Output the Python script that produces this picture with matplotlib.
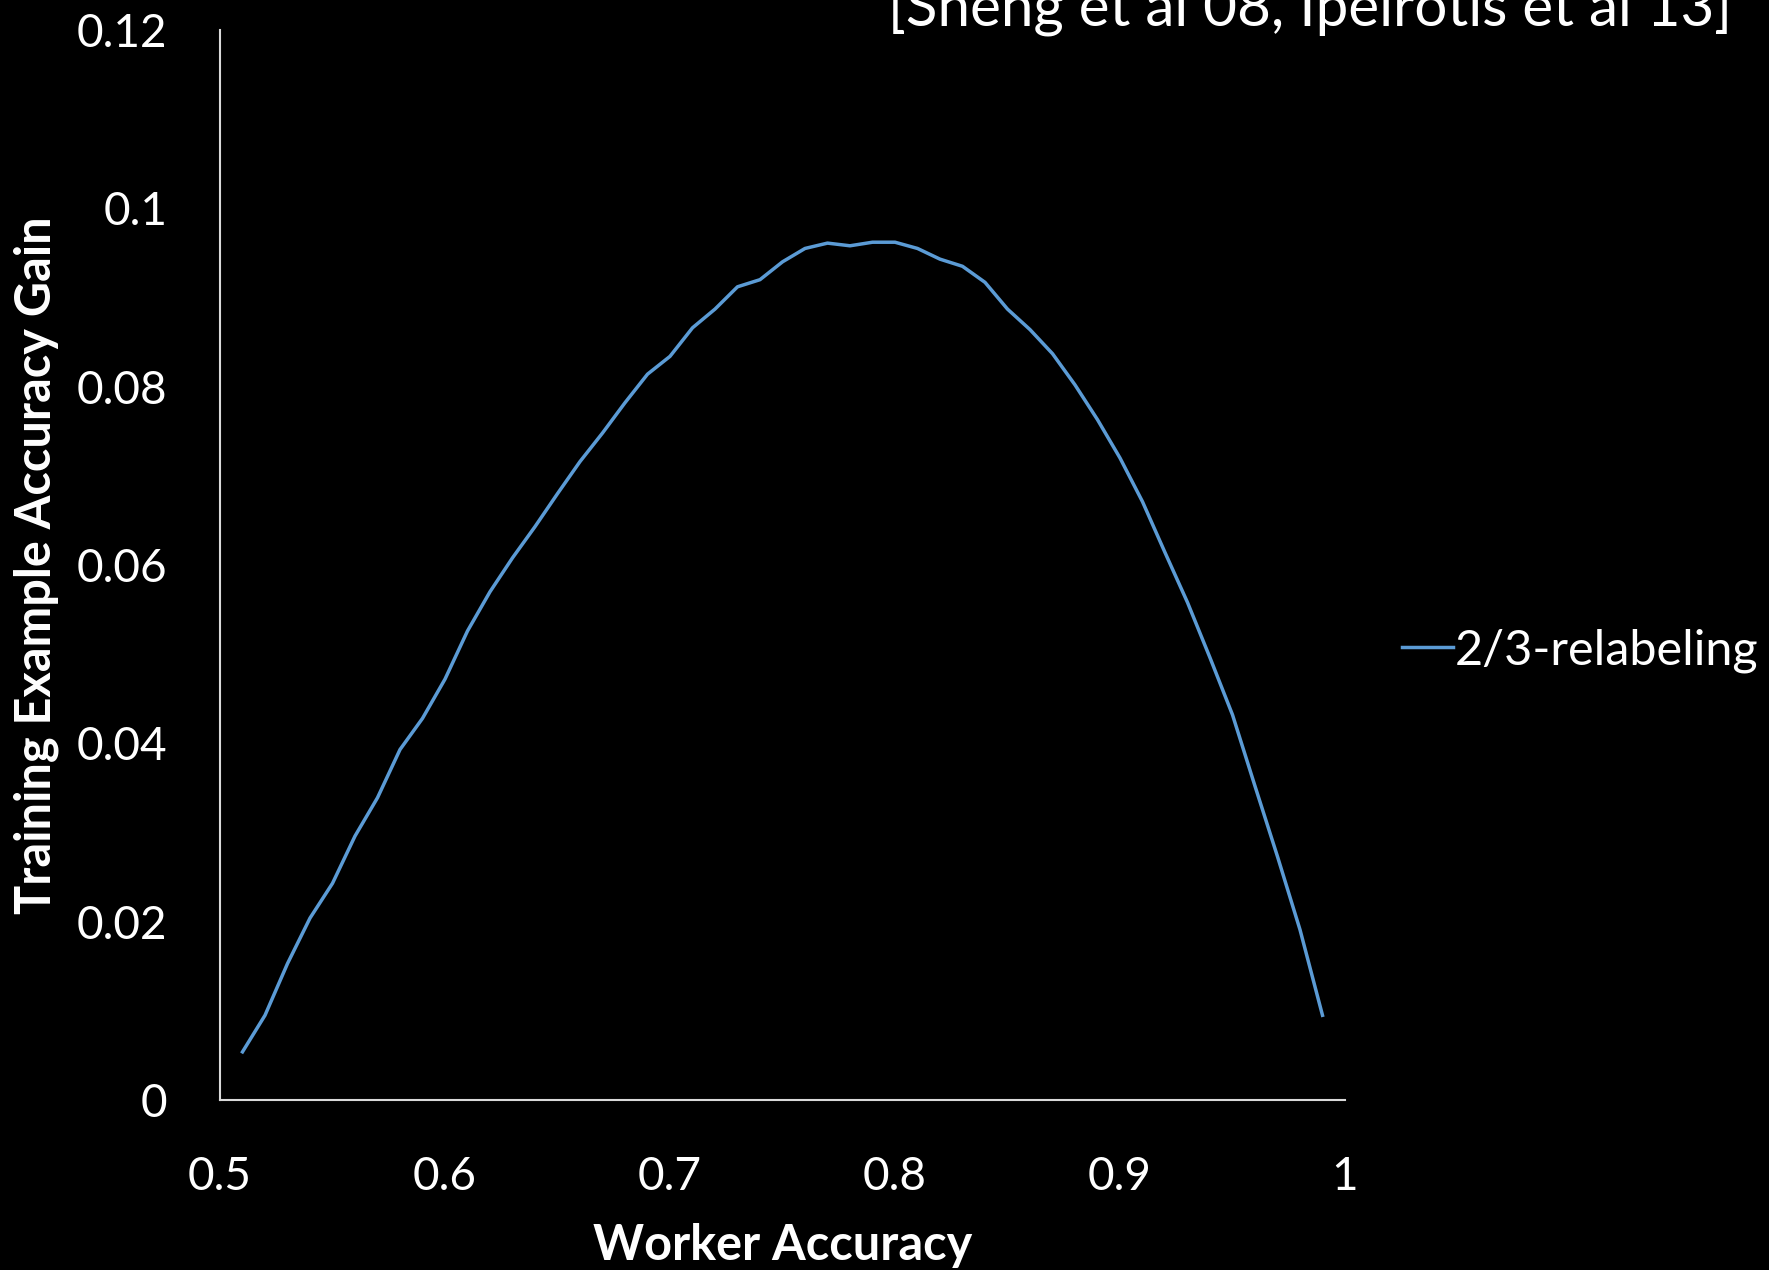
import numpy as np
import matplotlib
matplotlib.use("Agg")
import matplotlib.pyplot as plt

# ---- Data -------------------------------------------------------------------
worker_acc = [0.51, 0.52, 0.53, 0.54, 0.55, 0.56, 0.57, 0.58, 0.59, 0.60,
              0.61, 0.62, 0.63, 0.64, 0.65, 0.66, 0.67, 0.68, 0.69, 0.70,
              0.71, 0.72, 0.73, 0.74, 0.75, 0.76, 0.77, 0.78, 0.79, 0.80,
              0.81, 0.82, 0.83, 0.84, 0.85, 0.86, 0.87, 0.88, 0.89, 0.90,
              0.91, 0.92, 0.93, 0.94, 0.95, 0.96, 0.97, 0.98, 0.99]
acc_gain = [0.0054, 0.0095, 0.0153, 0.0204, 0.0243, 0.0296, 0.0339, 0.0393, 0.0428, 0.0472,
            0.0526, 0.0570, 0.0608, 0.0643, 0.0680, 0.0716, 0.0748, 0.0782, 0.0814, 0.0834,
            0.0866, 0.0887, 0.0912, 0.0920, 0.0940, 0.0955, 0.0961, 0.0958, 0.0962, 0.0962,
            0.0955, 0.0943, 0.0935, 0.0917, 0.0887, 0.0864, 0.0837, 0.0802, 0.0763, 0.0720,
            0.0671, 0.0614, 0.0558, 0.0496, 0.0432, 0.0352, 0.0273, 0.0191, 0.0095]

x_ticks = [0.5, 0.6, 0.7, 0.8, 0.9, 1.0]
x_ticklabels = ["0.5", "0.6", "0.7", "0.8", "0.9", "1"]
y_ticks = [0, 0.02, 0.04, 0.06, 0.08, 0.10, 0.12]
y_ticklabels = ["0", "0.02", "0.04", "0.06", "0.08", "0.1", "0.12"]

SERIES = "2/3-relabeling"
CITATION = "[Sheng et al 08, Ipeirotis et al 13]"

# ---- Style ------------------------------------------------------------------
plt.rcParams["font.family"] = ["Lato", "DejaVu Sans"]
FG = "white"
LINE = "#5B9BD5"

W, H = 1769, 1270
fig = plt.figure(figsize=(W / 100, H / 100), dpi=100, facecolor="black")
ax = fig.add_axes([220 / W, 1 - 1100 / H, 1125 / W, (1100 - 30) / H])
ax.set_facecolor("black")

ax.plot(worker_acc, acc_gain, color=LINE, linewidth=2.5, label=SERIES)

ax.set_xlim(0.5, 1.0)
ax.set_ylim(0, 0.12)
ax.set_xticks(x_ticks)
ax.set_xticklabels(x_ticklabels)
ax.set_yticks(y_ticks)
ax.set_yticklabels(y_ticklabels)
ax.tick_params(axis="both", length=0, labelsize=33, colors=FG)
ax.tick_params(axis="x", pad=40)
ax.tick_params(axis="y", pad=38)

for side in ("top", "right"):
    ax.spines[side].set_visible(False)
for side in ("left", "bottom"):
    ax.spines[side].set_color("#d9d9d9")
    ax.spines[side].set_linewidth(1.5)

ax.set_xlabel("Worker Accuracy", fontsize=35, fontweight="bold", color=FG)
ax.xaxis.set_label_coords(0.50, -0.115)
ax.set_ylabel("Training Example Accuracy Gain", fontsize=35, fontweight="bold", color=FG)
ax.yaxis.set_label_coords(-0.143, 0.50)

leg = ax.legend(loc="center left", bbox_to_anchor=(1.033, 0.42), frameon=False,
                fontsize=35, handlelength=1.05, handletextpad=0.05, borderaxespad=0)
for t in leg.get_texts():
    t.set_color(FG)

fig.text(1732 / W, 1 - 25 / H, CITATION, ha="right", va="baseline",
         fontsize=42, color=FG)

fig.savefig("out.png", dpi=100, facecolor="black")
